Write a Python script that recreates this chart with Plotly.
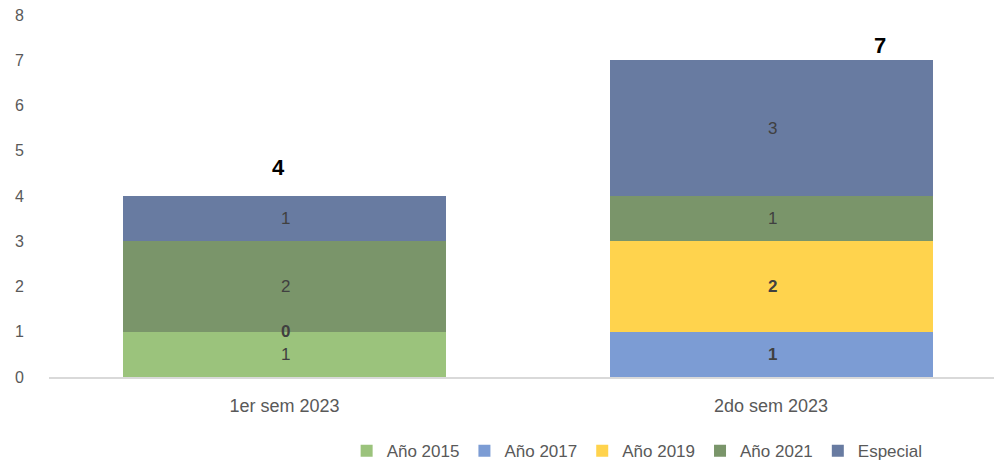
import plotly.graph_objects as go

categories = ["1er sem 2023", "2do sem 2023"]
series_names = ["Año 2015", "Año 2017", "Año 2019", "Año 2021", "Especial"]
v2015 = [1, None]
v2017 = [0, 1]
v2019 = [None, 2]
v2021 = [2, 1]
vesp = [1, 3]
totals = [4, 7]
y_ticks = [0, 1, 2, 3, 4, 5, 6, 7, 8]

series_values = [v2015, v2017, v2019, v2021, vesp]
colors = ["#9BC37C", "#7C9CD4", "#FFD34D", "#7A956A", "#687BA1"]
bold_series = {"Año 2017", "Año 2019"}

FONT = "Liberation Sans"
fig = go.Figure()
for name, vals, col in zip(series_names, series_values, colors):
    fig.add_trace(go.Bar(
        x=categories, y=[v if v is not None else 0 for v in vals], name=name,
        marker=dict(color=col, line=dict(width=0)),
    ))

annotations = []
base = [0.0 for _ in categories]
for name, vals in zip(series_names, series_values):
    for i, v in enumerate(vals):
        if v is None:
            continue
        yc = base[i] + v / 2.0
        txt = f"<b>{v}</b>" if name in bold_series else str(v)
        annotations.append(dict(x=categories[i], y=yc, text=txt, showarrow=False,
                                font=dict(family=FONT, size=17, color="#404040"),
                                xshift=1))
        base[i] += v

tot_xshift = [-6, 109]
tot_yshift = [14, 0]
for i, t in enumerate(totals):
    annotations.append(dict(x=categories[i], y=t, text=f"<b>{t}</b>", showarrow=False,
                            yanchor="bottom", yshift=tot_yshift[i], xshift=tot_xshift[i],
                            font=dict(family=FONT, size=22, color="#000000")))

fig.update_layout(
    barmode="stack",
    bargap=0.336,
    width=1002, height=468,
    margin=dict(l=41, r=0, t=7, b=99),
    paper_bgcolor="white", plot_bgcolor="white",
    font=dict(family=FONT, size=16, color="#595959"),
    annotations=annotations,
    legend=dict(orientation="h", x=0.612, xanchor="center", y=-0.205, yanchor="middle",
                font=dict(family=FONT, size=17, color="#595959"),
                traceorder="normal", itemwidth=30),
    xaxis=dict(range=[-0.484, 1.491], showline=True, linecolor="#D9D9D9", linewidth=2,
               ticks="", ticklabelstandoff=11,
               tickfont=dict(family=FONT, size=18, color="#595959"), showgrid=False),
    yaxis=dict(range=[0, 8.002], tickmode="array", tickvals=y_ticks,
               ticktext=[str(v) for v in y_ticks], ticklabeloverflow="allow",
               showgrid=False, zeroline=False, showline=False,
               ticklabelstandoff=24,
               tickfont=dict(family=FONT, size=16, color="#595959")),
)

fig.write_html("out.html")
